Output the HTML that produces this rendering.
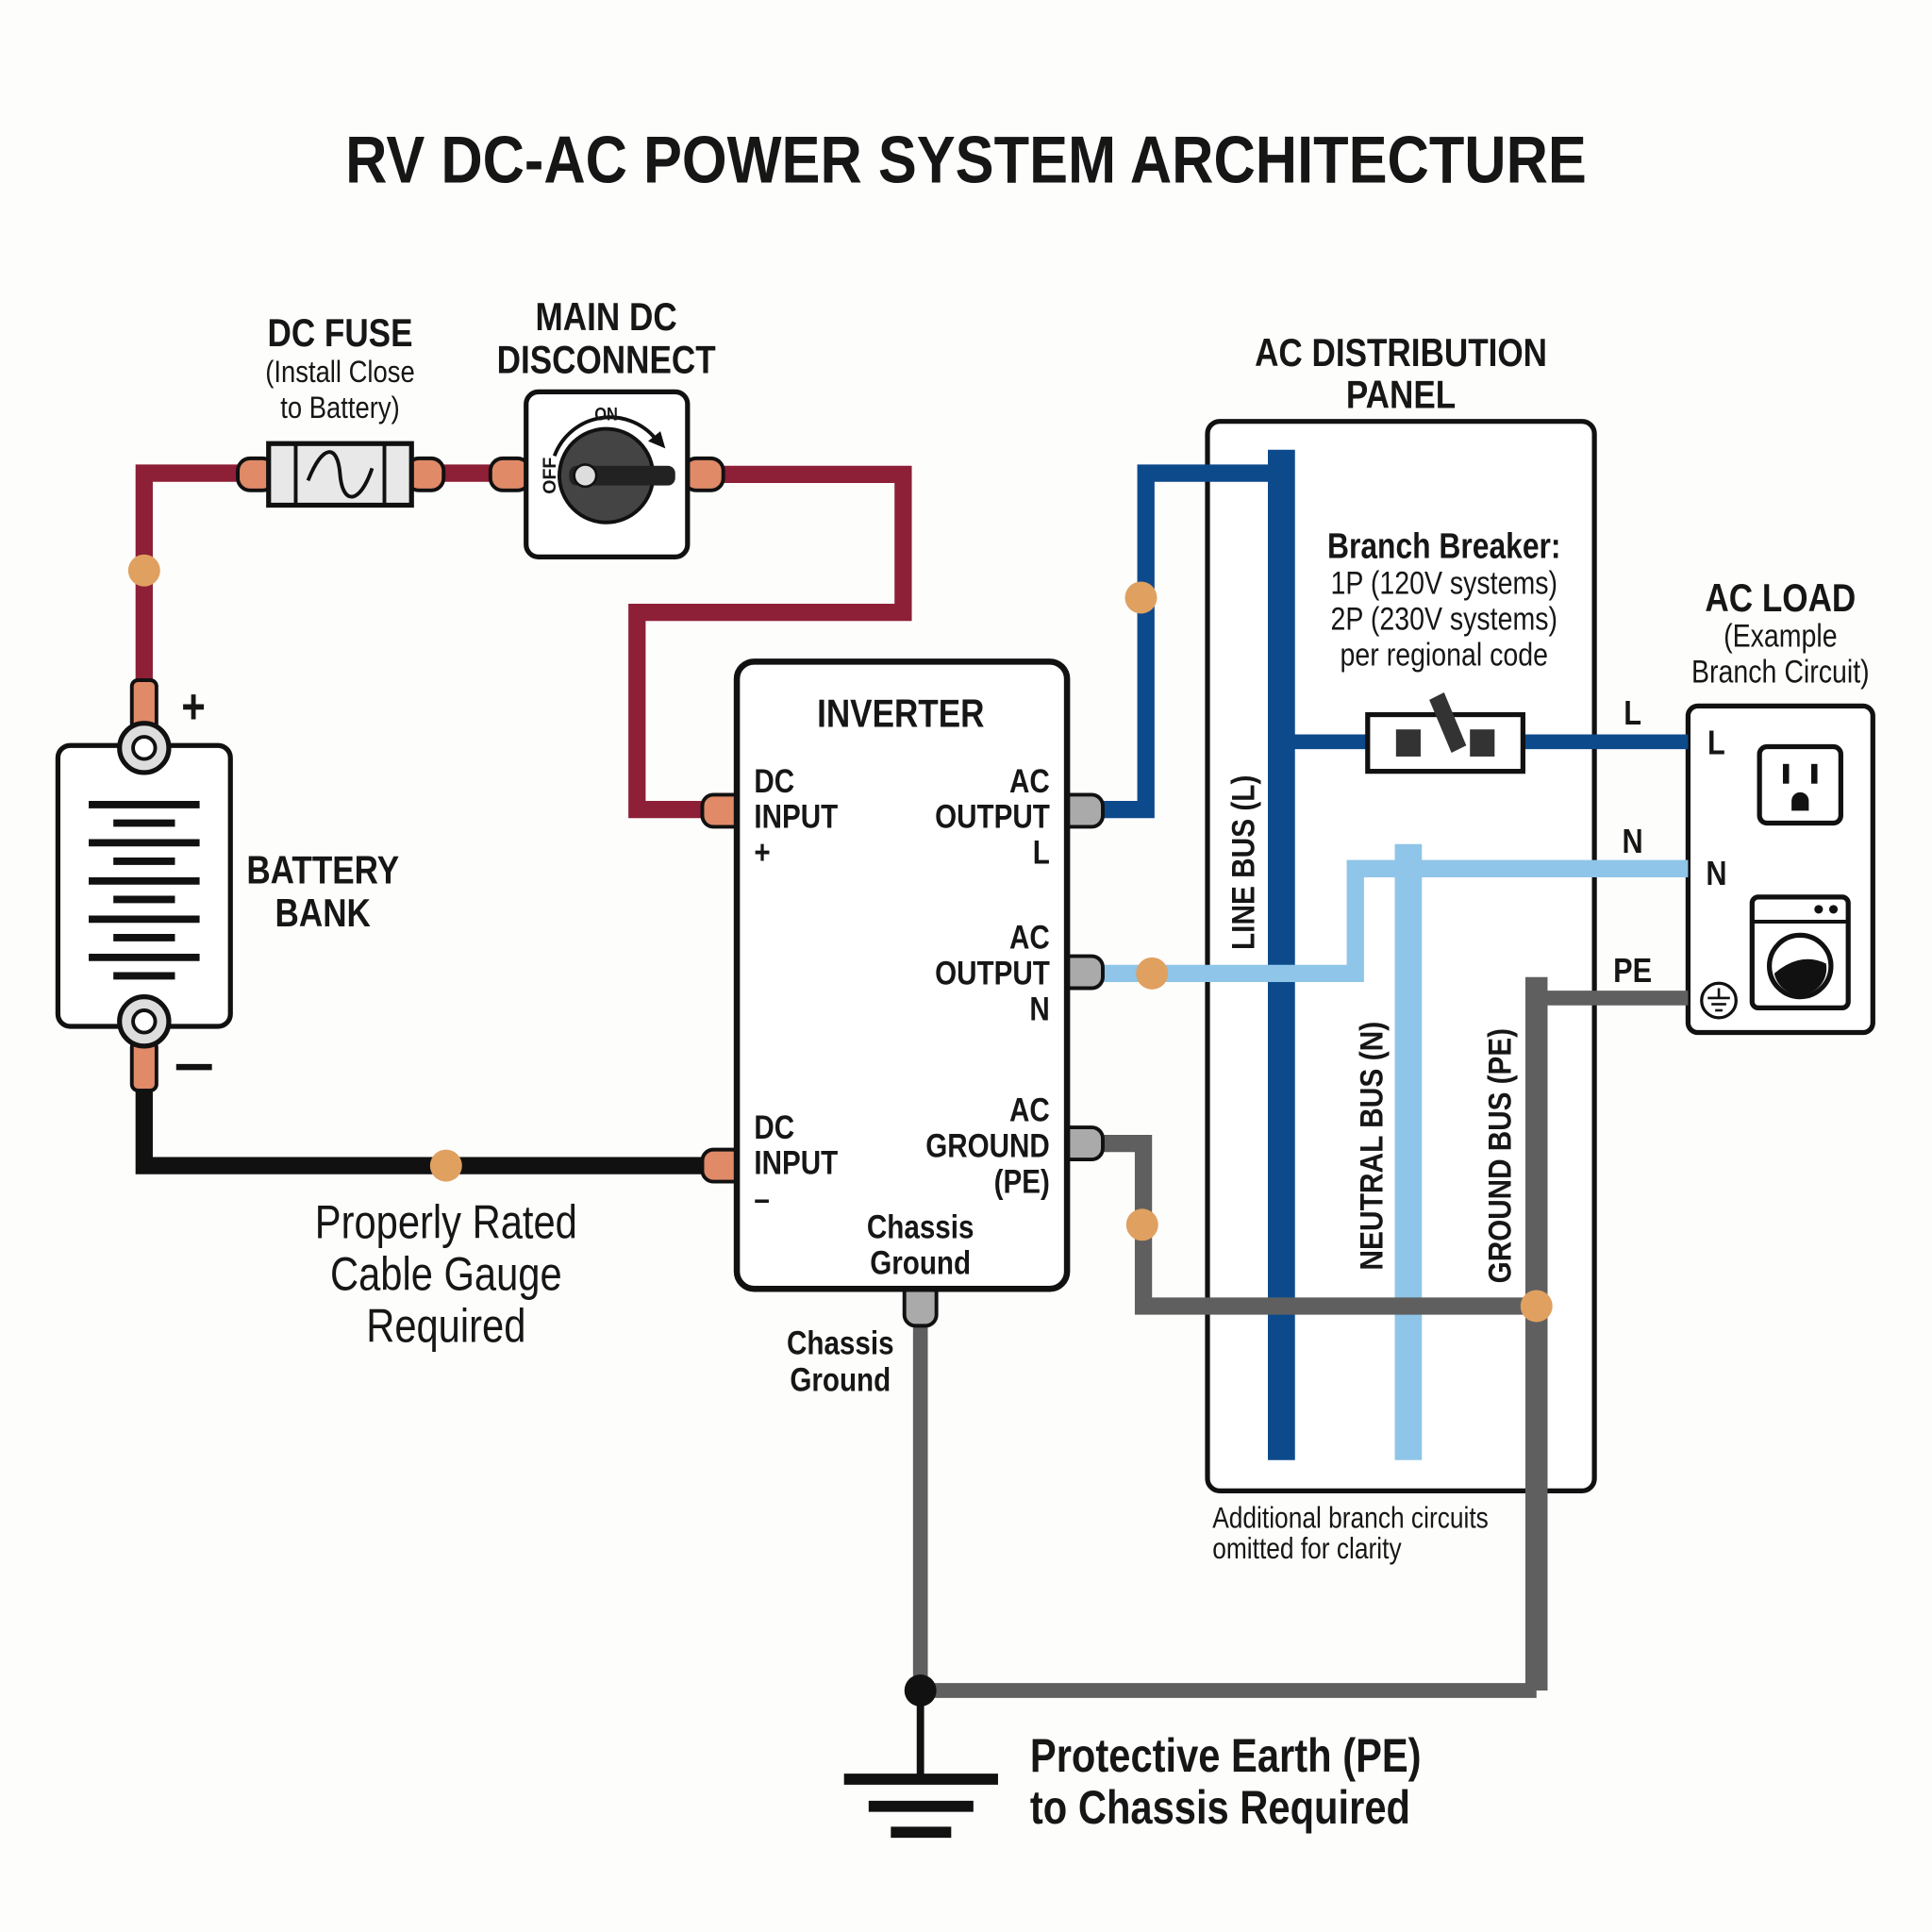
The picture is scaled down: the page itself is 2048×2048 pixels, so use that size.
<!DOCTYPE html>
<html><head><meta charset="utf-8"><style>
html,body{margin:0;padding:0;background:#fdfdfc;}
svg{display:block;}
text{font-family:"Liberation Sans Narrow","Liberation Sans",sans-serif;fill:#161616;transform-box:fill-box;transform-origin:center;transform:scaleX(.84);}
text.s{transform-origin:left center;}
text.e{transform-origin:right center;}
text.r{transform:none;}
.b{font-weight:bold;}
</style></head><body>
<svg width="2048" height="2048" viewBox="0 0 1568 1568" xmlns="http://www.w3.org/2000/svg">
<rect width="1568" height="1568" fill="#fdfdfc"/>
<text x="784" y="148" text-anchor="middle" class="b" font-size="54" style="transform:scaleX(.87)">RV DC-AC POWER SYSTEM ARCHITECTURE</text>

<rect x="980" y="342" width="314" height="868" rx="10" fill="#fff" stroke="#111" stroke-width="4"/>
<rect x="1370" y="573" width="150" height="265" rx="8" fill="#fff" stroke="#111" stroke-width="4"/>

<polyline points="117,555 117,384 200,384" fill="none" stroke="#8d1f36" stroke-width="14"/>
<line x1="355" y1="384" x2="405" y2="384" stroke="#8d1f36" stroke-width="14"/>
<polyline points="580,385 733,385 733,497 517,497 517,657 578,657" fill="none" stroke="#8d1f36" stroke-width="14"/>
<circle cx="117" cy="463" r="13" fill="#e0a060"/>

<polyline points="117,880 117,946 578,946" fill="none" stroke="#111" stroke-width="14"/>
<circle cx="362" cy="946" r="13" fill="#e0a060"/>

<rect x="193" y="372" width="30" height="26" rx="10" fill="#e08a68" stroke="#111" stroke-width="3"/>
<rect x="330" y="372" width="30" height="26" rx="10" fill="#e08a68" stroke="#111" stroke-width="3"/>
<rect x="218" y="360" width="116" height="50" fill="#e8e8e8" stroke="#111" stroke-width="4"/>
<line x1="240" y1="360" x2="240" y2="410" stroke="#111" stroke-width="3"/>
<line x1="312" y1="360" x2="312" y2="410" stroke="#111" stroke-width="3"/>
<path d="M250,390 C262,360 274,360 276,385 C278,410 292,410 302,380" fill="none" stroke="#111" stroke-width="3"/>

<rect x="398" y="372" width="32" height="26" rx="10" fill="#e08a68" stroke="#111" stroke-width="3"/>
<rect x="555" y="372" width="32" height="26" rx="10" fill="#e08a68" stroke="#111" stroke-width="3"/>
<rect x="427" y="318" width="131" height="134" rx="10" fill="#fff" stroke="#111" stroke-width="4"/>
<circle cx="492" cy="386" r="38" fill="#444" stroke="#111" stroke-width="3"/>
<rect x="462" y="378" width="86" height="16" rx="6" fill="#222"/>
<circle cx="475" cy="386" r="9" fill="#ddd" stroke="#111" stroke-width="2"/>
<path d="M450,370 A48,48 0 0 1 532,356" fill="none" stroke="#111" stroke-width="3"/>
<polygon points="540,364 526,358 536,350" fill="#111"/>
<text x="492" y="341" text-anchor="middle" class="b" font-size="15">ON</text>
<g transform="rotate(-90 446 386)"><text x="446" y="391" text-anchor="middle" class="b r" font-size="15">OFF</text></g>

<rect x="47" y="605" width="140" height="228" rx="10" fill="#fff" stroke="#111" stroke-width="4"/>
<rect x="107" y="552" width="20" height="40" rx="5" fill="#e08a68" stroke="#111" stroke-width="3"/>
<rect x="107" y="845" width="20" height="40" rx="5" fill="#e08a68" stroke="#111" stroke-width="3"/>
<circle cx="117" cy="607" r="20" fill="#ddd" stroke="#111" stroke-width="4"/>
<circle cx="117" cy="607" r="9" fill="#fff" stroke="#111" stroke-width="3"/>
<circle cx="117" cy="829" r="20" fill="#ddd" stroke="#111" stroke-width="4"/>
<circle cx="117" cy="829" r="9" fill="#fff" stroke="#111" stroke-width="3"/>
<g stroke="#111" stroke-width="6">
<line x1="72" y1="653" x2="162" y2="653"/><line x1="92" y1="668" x2="142" y2="668"/>
<line x1="72" y1="684" x2="162" y2="684"/><line x1="92" y1="699" x2="142" y2="699"/>
<line x1="72" y1="715" x2="162" y2="715"/><line x1="92" y1="730" x2="142" y2="730"/>
<line x1="72" y1="746" x2="162" y2="746"/><line x1="92" y1="761" x2="142" y2="761"/>
<line x1="72" y1="777" x2="162" y2="777"/><line x1="92" y1="792" x2="142" y2="792"/>
</g>
<text x="157" y="587" text-anchor="middle" class="b" font-size="40">+</text>
<line x1="143" y1="866" x2="172" y2="866" stroke="#111" stroke-width="5"/>
<text x="262" y="717" text-anchor="middle" class="b" font-size="32">BATTERY</text>
<text x="262" y="752" text-anchor="middle" class="b" font-size="32">BANK</text>

<text x="276" y="281" text-anchor="middle" class="b" font-size="32">DC FUSE</text>
<text x="276" y="310" text-anchor="middle" font-size="25">(Install Close</text>
<text x="276" y="339" text-anchor="middle" font-size="25">to Battery)</text>
<text x="492" y="268" text-anchor="middle" class="b" font-size="32">MAIN DC</text>
<text x="492" y="303" text-anchor="middle" class="b" font-size="32">DISCONNECT</text>

<text x="362" y="1005" text-anchor="middle" font-size="38">Properly Rated</text>
<text x="362" y="1047" text-anchor="middle" font-size="38">Cable Gauge</text>
<text x="362" y="1089" text-anchor="middle" font-size="38">Required</text>

<polyline points="893,657 930,657 930,384 1040,384" fill="none" stroke="#0d4a8c" stroke-width="14"/>
<line x1="1040" y1="365" x2="1040" y2="1185" stroke="#0d4a8c" stroke-width="22"/>
<line x1="1040" y1="602" x2="1370" y2="602" stroke="#0d4a8c" stroke-width="12"/>
<circle cx="926" cy="485" r="13" fill="#e0a060"/>

<polyline points="893,790 1100,790 1100,705 1370,705" fill="none" stroke="#8ec5e8" stroke-width="14"/>
<line x1="1143" y1="685" x2="1143" y2="1185" stroke="#8ec5e8" stroke-width="22"/>
<circle cx="935" cy="790" r="13" fill="#e0a060"/>

<polyline points="893,928 928,928 928,1060 1247,1060" fill="none" stroke="#5f5f5f" stroke-width="14"/>
<line x1="1247" y1="793" x2="1247" y2="1372" stroke="#5f5f5f" stroke-width="18"/>
<polyline points="1247,810 1370,810" fill="none" stroke="#5f5f5f" stroke-width="12"/>
<polyline points="747,1075 747,1372 1247,1372" fill="none" stroke="#5f5f5f" stroke-width="12"/>
<circle cx="927" cy="994" r="13" fill="#e0a060"/>
<circle cx="1247" cy="1060" r="13" fill="#e0a060"/>

<rect x="1110" y="580" width="126" height="46" fill="#fff" stroke="#111" stroke-width="4"/>
<rect x="1133" y="592" width="20" height="22" fill="#333"/>
<rect x="1193" y="592" width="20" height="22" fill="#333"/>
<polygon points="1160,568 1172,562 1190,605 1178,611" fill="#333"/>

<text x="1137" y="297" text-anchor="middle" class="b" font-size="32">AC DISTRIBUTION</text>
<text x="1137" y="331" text-anchor="middle" class="b" font-size="32">PANEL</text>
<text x="1172" y="453" text-anchor="middle" class="b" font-size="29">Branch Breaker:</text>
<text x="1172" y="482" text-anchor="middle" font-size="26">1P (120V systems)</text>
<text x="1172" y="511" text-anchor="middle" font-size="26">2P (230V systems)</text>
<text x="1172" y="540" text-anchor="middle" font-size="26">per regional code</text>
<g transform="rotate(-90 1018 700)"><text x="1018" y="700" text-anchor="middle" class="b r" font-size="26" textLength="142" lengthAdjust="spacingAndGlyphs">LINE BUS (L)</text></g>
<g transform="rotate(-90 1122 930)"><text x="1122" y="930" text-anchor="middle" class="b r" font-size="26" textLength="202" lengthAdjust="spacingAndGlyphs">NEUTRAL BUS (N)</text></g>
<g transform="rotate(-90 1226 938)"><text x="1226" y="938" text-anchor="middle" class="b r" font-size="26" textLength="207" lengthAdjust="spacingAndGlyphs">GROUND BUS (PE)</text></g>
<text x="984" y="1240" class="s" font-size="24">Additional branch circuits</text>
<text x="984" y="1265" class="s" font-size="24">omitted for clarity</text>
<text x="1325" y="588" text-anchor="middle" class="b" font-size="28">L</text>
<text x="1325" y="692" text-anchor="middle" class="b" font-size="28">N</text>
<text x="1325" y="797" text-anchor="middle" class="b" font-size="28">PE</text>

<text x="1445" y="496" text-anchor="middle" class="b" font-size="32">AC LOAD</text>
<text x="1445" y="525" text-anchor="middle" font-size="26">(Example</text>
<text x="1445" y="554" text-anchor="middle" font-size="26">Branch Circuit)</text>
<text x="1393" y="612" text-anchor="middle" class="b" font-size="28">L</text>
<text x="1393" y="718" text-anchor="middle" class="b" font-size="28">N</text>
<rect x="1428" y="606" width="66" height="62" rx="6" fill="#fff" stroke="#111" stroke-width="4"/>
<rect x="1447" y="620" width="5" height="16" fill="#111"/>
<rect x="1470" y="620" width="5" height="16" fill="#111"/>
<path d="M1454,658 v-8 a7,7 0 0 1 14,0 v8 z" fill="#111"/>
<rect x="1422" y="728" width="78" height="90" rx="5" fill="#fff" stroke="#111" stroke-width="4"/>
<line x1="1422" y1="748" x2="1500" y2="748" stroke="#111" stroke-width="3"/>
<circle cx="1476" cy="738" r="3.5" fill="#111"/><circle cx="1488" cy="738" r="3.5" fill="#111"/>
<circle cx="1461" cy="784" r="25" fill="#fff" stroke="#111" stroke-width="4"/>
<path d="M1440,790 Q1461,772 1482,782 A21,21 0 0 1 1440,790 z" fill="#111"/>
<circle cx="1395" cy="812" r="14" fill="#fff" stroke="#111" stroke-width="2.5"/>
<line x1="1395" y1="802" x2="1395" y2="810" stroke="#111" stroke-width="2"/>
<line x1="1386" y1="810" x2="1404" y2="810" stroke="#111" stroke-width="2"/>
<line x1="1389" y1="815" x2="1401" y2="815" stroke="#111" stroke-width="2"/>
<line x1="1392" y1="820" x2="1398" y2="820" stroke="#111" stroke-width="2"/>

<rect x="570" y="645" width="34" height="26" rx="9" fill="#e08a68" stroke="#111" stroke-width="3"/>
<rect x="570" y="933" width="34" height="26" rx="9" fill="#e08a68" stroke="#111" stroke-width="3"/>
<rect x="860" y="645" width="35" height="26" rx="9" fill="#aaa" stroke="#111" stroke-width="3"/>
<rect x="860" y="776" width="35" height="26" rx="9" fill="#aaa" stroke="#111" stroke-width="3"/>
<rect x="860" y="915" width="35" height="26" rx="9" fill="#aaa" stroke="#111" stroke-width="3"/>
<rect x="734" y="1040" width="26" height="36" rx="9" fill="#aaa" stroke="#111" stroke-width="3"/>
<rect x="598" y="537" width="268" height="509" rx="14" fill="#fff" stroke="#111" stroke-width="5"/>
<text x="731" y="590" text-anchor="middle" class="b" font-size="32">INVERTER</text>
<g font-size="27">
<text x="612" y="643" class="b s">DC</text><text x="612" y="672" class="b s">INPUT</text><text x="612" y="701" class="b s">+</text>
<text x="612" y="924" class="b s">DC</text><text x="612" y="953" class="b s">INPUT</text><text x="612" y="982" class="b s">–</text>
<text x="852" y="643" text-anchor="end" class="b e">AC</text><text x="852" y="672" text-anchor="end" class="b e">OUTPUT</text><text x="852" y="701" text-anchor="end" class="b e">L</text>
<text x="852" y="770" text-anchor="end" class="b e">AC</text><text x="852" y="799" text-anchor="end" class="b e">OUTPUT</text><text x="852" y="828" text-anchor="end" class="b e">N</text>
<text x="852" y="910" text-anchor="end" class="b e">AC</text><text x="852" y="939" text-anchor="end" class="b e">GROUND</text><text x="852" y="968" text-anchor="end" class="b e">(PE)</text>
<text x="747" y="1005" text-anchor="middle" class="b">Chassis</text><text x="747" y="1034" text-anchor="middle" class="b">Ground</text>
<text x="682" y="1099" text-anchor="middle" class="b">Chassis</text><text x="682" y="1129" text-anchor="middle" class="b">Ground</text>
</g>

<line x1="747" y1="1372" x2="747" y2="1444" stroke="#111" stroke-width="6"/>
<circle cx="747" cy="1372" r="13" fill="#111"/>
<line x1="685" y1="1444" x2="810" y2="1444" stroke="#111" stroke-width="9"/>
<line x1="705" y1="1466" x2="790" y2="1466" stroke="#111" stroke-width="9"/>
<line x1="723" y1="1487" x2="772" y2="1487" stroke="#111" stroke-width="9"/>
<text x="836" y="1438" class="b s" font-size="38">Protective Earth (PE)</text>
<text x="836" y="1480" class="b s" font-size="38">to Chassis Required</text>
</svg>
</body></html>
